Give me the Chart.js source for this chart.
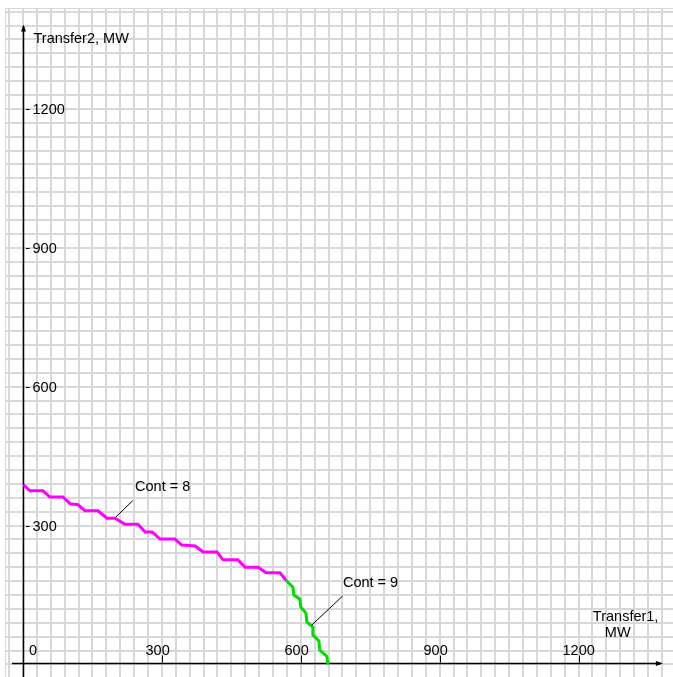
<!DOCTYPE html>
<html><head><meta charset="utf-8">
<script src="https://cdn.jsdelivr.net/npm/chart.js@4/dist/chart.umd.min.js"></script>
<style>html,body{margin:0;padding:0;background:#fff;overflow:hidden}#wrap{width:673px;height:677px}</style>
</head><body><div id="wrap"><canvas id="c" width="673" height="677"></canvas></div>
<script>
// ---- data (MW) ----
const xTickValues = [0, 300, 600, 900, 1200];
const yTickValues = [300, 600, 900, 1200];
const cont8X = [1, 15, 43, 58, 86, 102, 119, 134, 162, 181, 199, 220, 248, 264, 279, 296, 328, 343, 372, 389, 419, 432, 464, 480, 508, 525, 555, 568];
const cont8Y = [388, 375, 375, 362, 362, 347, 345, 332, 332, 316, 316, 303, 303, 286, 286, 271, 271, 258, 256, 243, 243, 226, 226, 210, 210, 198, 198, 182];
const cont9X = [568, 583, 585, 598, 600, 611, 613, 626, 626, 639, 641, 656, 659];
const cont9Y = [182, 167, 150, 141, 124, 111, 92, 81, 64, 51, 31, 18, 0];
const annotationLabels = ['Cont = 8', 'Cont = 9'];
const annotationTextX = [242, 691];
const annotationTextY = [383, 176];
const leaderFromX = [201, 623.5];
const leaderFromY = [319, 85];
const leaderToX = [237, 690.5];
const leaderToY = [354, 148];
const xAxisTitle = ['Transfer1,', 'MW'];
const yAxisTitle = 'Transfer2, MW';
const gridStep = 30;
const axisArrowValue = 1382;

const toPts = (xs, ys) => xs.map((x, i) => ({x: x, y: ys[i]}));
const gridTicks = (scale) => {
  const t = [];
  for (let v = Math.ceil(scale.min / gridStep) * gridStep; v <= scale.max; v += gridStep) t.push({value: v});
  scale.ticks = t;
};

const FONT = '14.5px "Liberation Sans", Arial, sans-serif';

const overlay = {
  id: 'overlay',
  beforeDatasetsDraw(chart) {
    const ctx = chart.ctx, xs = chart.scales.x, ys = chart.scales.y, ca = chart.chartArea;
    const ox = Math.round(xs.getPixelForValue(0)) + 0.5;
    const oy = Math.round(ys.getPixelForValue(0)) - 0.5;
    ctx.save();
    // panel border
    ctx.strokeStyle = '#d8d8d8';
    ctx.lineWidth = 1;
    ctx.beginPath();
    ctx.moveTo(ca.left + 0.5, ca.bottom); ctx.lineTo(ca.left + 0.5, ca.top + 0.5); ctx.lineTo(ca.right, ca.top + 0.5);
    ctx.stroke();
    // axes
    ctx.strokeStyle = '#000'; ctx.fillStyle = '#000'; ctx.lineWidth = 1.5;
    const yTip = ys.getPixelForValue(axisArrowValue);
    const xTip = xs.getPixelForValue(axisArrowValue);
    ctx.beginPath();
    ctx.moveTo(ox, ca.bottom); ctx.lineTo(ox, yTip + 2);
    ctx.moveTo(ca.left + 7, oy); ctx.lineTo(xTip - 2, oy);
    ctx.stroke();
    ctx.beginPath();
    ctx.moveTo(ox, yTip); ctx.lineTo(ox - 2.5, yTip + 7); ctx.lineTo(ox + 2.5, yTip + 7); ctx.closePath();
    ctx.fill();
    ctx.beginPath();
    ctx.moveTo(xTip, oy); ctx.lineTo(xTip - 7, oy - 2.5); ctx.lineTo(xTip - 7, oy + 2.5); ctx.closePath();
    ctx.fill();
    // ticks + labels
    ctx.font = FONT; ctx.textBaseline = 'middle'; ctx.textAlign = 'left';
    ctx.lineWidth = 1;
    yTickValues.forEach(v => {
      const py = Math.round(ys.getPixelForValue(v)) + 0.5;
      ctx.beginPath(); ctx.moveTo(ox + 2.5, py); ctx.lineTo(ox + 6, py); ctx.stroke();
      ctx.fillText(String(v), ox + 9, py);
    });
    xTickValues.forEach(v => {
      const px = Math.round(xs.getPixelForValue(v)) + 0.5;
      if (v !== 0) {
        ctx.beginPath(); ctx.moveTo(px, oy - 1); ctx.lineTo(px, oy - 8); ctx.stroke();
        ctx.fillText(String(v), px - 17, oy - 12.5);
      } else {
        ctx.fillText(String(v), px + 5.5, oy - 12.5);
      }
    });
    // axis titles
    ctx.fillText(yAxisTitle, ox + 10, yTip + 14);
    ctx.fillText(xAxisTitle[0], xTip - 70, oy - 46.5);
    ctx.fillText(xAxisTitle[1], xTip - 58, oy - 30.5);
    ctx.restore();
  },
  afterDatasetsDraw(chart) {
    const ctx = chart.ctx, xs = chart.scales.x, ys = chart.scales.y;
    ctx.save();
    ctx.strokeStyle = '#000'; ctx.fillStyle = '#000'; ctx.lineWidth = 1;
    ctx.font = FONT; ctx.textBaseline = 'middle'; ctx.textAlign = 'left';
    annotationLabels.forEach((lab, i) => {
      ctx.beginPath();
      ctx.moveTo(xs.getPixelForValue(leaderFromX[i]), ys.getPixelForValue(leaderFromY[i]));
      ctx.lineTo(xs.getPixelForValue(leaderToX[i]), ys.getPixelForValue(leaderToY[i]));
      ctx.stroke();
      ctx.fillText(lab, xs.getPixelForValue(annotationTextX[i]), ys.getPixelForValue(annotationTextY[i]));
    });
    ctx.restore();
  }
};

new Chart(document.getElementById('c'), {
  type: 'scatter',
  data: {
    datasets: [
      {label: 'Cont = 8', data: toPts(cont8X, cont8Y), showLine: true, borderColor: '#ff00ff', borderWidth: 3, pointRadius: 0, tension: 0, fill: false},
      {label: 'Cont = 9', data: toPts(cont9X, cont9Y), showLine: true, borderColor: '#00dd00', borderWidth: 3, pointRadius: 0, tension: 0, fill: false}
    ]
  },
  options: {
    responsive: false,
    devicePixelRatio: 1,
    animation: false,
    layout: {padding: {left: 5, top: 8, right: 0, bottom: 0}},
    plugins: {legend: {display: false}, tooltip: {enabled: false}},
    scales: {
      x: {type: 'linear', min: -38.9, max: 1403.9, afterBuildTicks: gridTicks,
          ticks: {display: false}, grid: {color: '#d8d8d8', lineWidth: 2, drawTicks: false}, border: {display: false}},
      y: {type: 'linear', min: -27, max: 1417.9, afterBuildTicks: gridTicks,
          ticks: {display: false}, grid: {color: '#d8d8d8', lineWidth: 2, drawTicks: false}, border: {display: false}}
    }
  },
  plugins: [overlay]
});
</script>
</body></html>
